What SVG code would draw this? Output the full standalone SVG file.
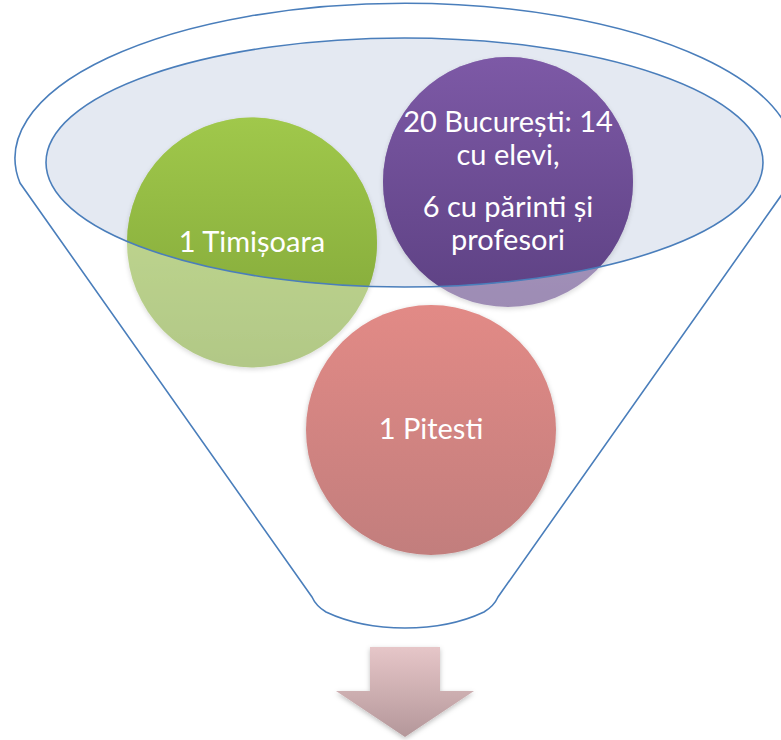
<svg xmlns="http://www.w3.org/2000/svg" width="781" height="740" viewBox="0 0 781 740">
  <style>
    .outline { fill: none; stroke: #4A7EBB; stroke-width: 1.6; }
    .label { font-family: "Lato", "Open Sans", "Liberation Sans", sans-serif; font-size: 29px; fill: #FFFFFF; text-anchor: middle; }
  </style>
  <defs>
    <linearGradient id="gGreen" x1="0" y1="0" x2="0" y2="1">
      <stop offset="0" stop-color="#A0C84B"/>
      <stop offset="1" stop-color="#7FA437"/>
    </linearGradient>
    <linearGradient id="gPurple" x1="0" y1="0" x2="0" y2="1">
      <stop offset="0" stop-color="#7D59A6"/>
      <stop offset="1" stop-color="#5D4183"/>
    </linearGradient>
    <linearGradient id="gRed" x1="0" y1="0" x2="0" y2="1">
      <stop offset="0" stop-color="#E28A86"/>
      <stop offset="1" stop-color="#C27E7D"/>
    </linearGradient>
    <linearGradient id="gArrow" x1="0" y1="0" x2="0" y2="1">
      <stop offset="0" stop-color="#E6C6C8"/>
      <stop offset="1" stop-color="#B4979A"/>
    </linearGradient>
    <clipPath id="innerClip">
      <ellipse cx="404.5" cy="162.5" rx="358.5" ry="124.5"/>
    </clipPath>
    <filter id="shadow" x="-20%" y="-20%" width="140%" height="140%">
      <feDropShadow dx="0" dy="2" stdDeviation="2.5" flood-color="#000000" flood-opacity="0.25"/>
    </filter>
  </defs>

  <g id="funnel">
    <path class="outline" d="M 312 597 L 20 183 A 390 155 0 1 1 790 183 L 498 597 Q 494 606 484 612 Q 450 628 405 628 Q 360 628 326 612 Q 316 606 312 597 Z"/>
  </g>

  <g id="inner-ellipse">
    <ellipse cx="404.5" cy="162.5" rx="358.5" ry="124.5" fill="#E4E9F2"/>
  </g>

  <g id="node-timisoara">
    <circle cx="252" cy="242.5" r="125" fill="url(#gGreen)" opacity="0.6" filter="url(#shadow)"/>
    <circle cx="252" cy="242.5" r="125" fill="url(#gGreen)" clip-path="url(#innerClip)"/>
    <text class="label" x="252" y="252">1 Timișoara</text>
  </g>

  <g id="node-bucuresti">
    <circle cx="508" cy="182" r="125" fill="url(#gPurple)" opacity="0.6" filter="url(#shadow)"/>
    <circle cx="508" cy="182" r="125" fill="url(#gPurple)" clip-path="url(#innerClip)"/>
    <text class="label" x="508" y="132">20 București: 14</text>
    <text class="label" x="508" y="165">cu elevi,</text>
    <text class="label" x="508" y="217">6 cu părinti și</text>
    <text class="label" x="508" y="250">profesori</text>
  </g>

  <g id="node-pitesti">
    <circle cx="431" cy="430" r="125" fill="url(#gRed)" filter="url(#shadow)"/>
    <text class="label" x="431" y="439">1 Pitesti</text>
  </g>

  <g id="inner-ellipse-outline">
    <ellipse class="outline" cx="404.5" cy="162.5" rx="358.5" ry="124.5"/>
  </g>

  <g id="connectors">
    <g id="arrow">
      <path d="M 370 647 L 440 647 L 440 691 L 474 691 L 405 737 L 336 691 L 370 691 Z" fill="url(#gArrow)" filter="url(#shadow)"/>
    </g>
  </g>
</svg>
